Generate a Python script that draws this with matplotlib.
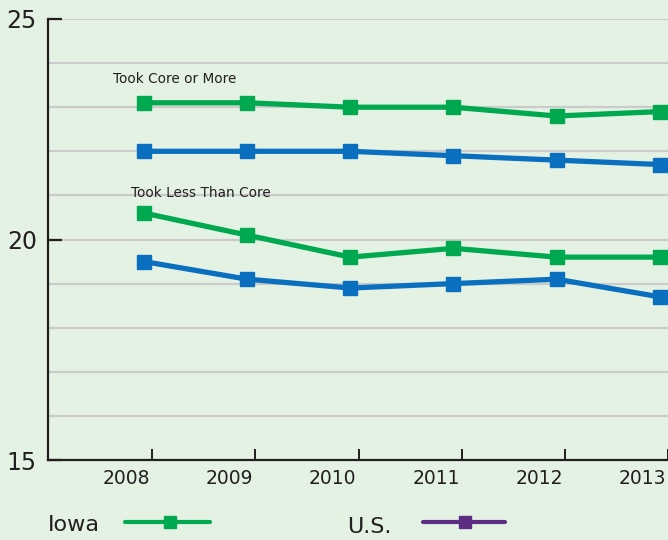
import matplotlib
matplotlib.use("Agg")
import matplotlib.pyplot as plt
from matplotlib.lines import Line2D

years = [2008, 2009, 2010, 2011, 2012, 2013]
iowa_core = [23.1, 23.1, 23.0, 23.0, 22.8, 22.9]
us_core = [22.0, 22.0, 22.0, 21.9, 21.8, 21.7]
iowa_less = [20.6, 20.1, 19.6, 19.8, 19.6, 19.6]
us_less = [19.5, 19.1, 18.9, 19.0, 19.1, 18.7]
y_ticks = [15, 20, 25]
legend_labels = ["Iowa", "U.S."]

BG = "#e4f2e4"
GREEN = "#00a84f"
BLUE = "#0a6fbf"
PURPLE = "#5c2d82"
DARK = "#231f20"

plt.rcParams['font.family'] = ['DejaVu Sans']

fig = plt.figure(figsize=(6.68, 5.4), dpi=100, facecolor=BG)
ax = fig.add_axes([48/668, 80/540, 620/668, 441/540])
ax.set_facecolor(BG)

ax.set_xlim(2007.07, 2013.08)
ax.set_ylim(15, 25)

for g in range(16, 26):
    ax.axhline(g, color="#cbcbcb", lw=1.6, zorder=1)

lw = 3.8
ms = 10
for vals, col in [(iowa_core, GREEN), (us_core, BLUE), (iowa_less, GREEN), (us_less, BLUE)]:
    ax.plot(years, vals, color=col, lw=lw, marker='s', ms=ms, zorder=3, clip_on=False)

ax.text(2007.7, 23.65, "Took Core or More", fontsize=9.8, color=DARK, va='center', ha='left')
ax.text(2007.87, 21.05, "Took Less Than Core", fontsize=9.8, color=DARK, va='center', ha='left')

for s in ["top", "right"]:
    ax.spines[s].set_visible(False)
for s in ["left", "bottom"]:
    ax.spines[s].set_color(DARK)
    ax.spines[s].set_linewidth(1.6)

ax.set_yticks(y_ticks)
ax.set_yticklabels([str(v) for v in y_ticks], fontsize=17, color=DARK)
ax.tick_params(axis='y', direction='in', length=10, width=1.6, color=DARK, pad=8)

ax.set_xticks([y + 0.08 for y in years])
ax.set_xticklabels([])
ax.tick_params(axis='x', direction='in', length=8, width=1.4, color=DARK)
for y in years:
    ax.text(y - 0.17, 14.58, str(y), fontsize=13.5, color=DARK, ha='center', va='center',
            transform=ax.transData, clip_on=False)

fig.text(48/668, 1 - 525/540, legend_labels[0], fontsize=16, color=DARK, ha='left', va='center')
fig.add_artist(Line2D([125/668, 210/668], [1 - 522/540] * 2, color=GREEN, lw=3, solid_capstyle='round'))
fig.add_artist(Line2D([170/668], [1 - 522/540], color=GREEN, marker='s', ms=8, lw=0))
fig.text(347/668, 1 - 527/540, legend_labels[1], fontsize=16, color=DARK, ha='left', va='center')
fig.add_artist(Line2D([423/668, 505/668], [1 - 522/540] * 2, color=PURPLE, lw=3, solid_capstyle='round'))
fig.add_artist(Line2D([465/668], [1 - 522/540], color=PURPLE, marker='s', ms=8, lw=0))

fig.savefig("out.png", dpi=100, facecolor=BG)
